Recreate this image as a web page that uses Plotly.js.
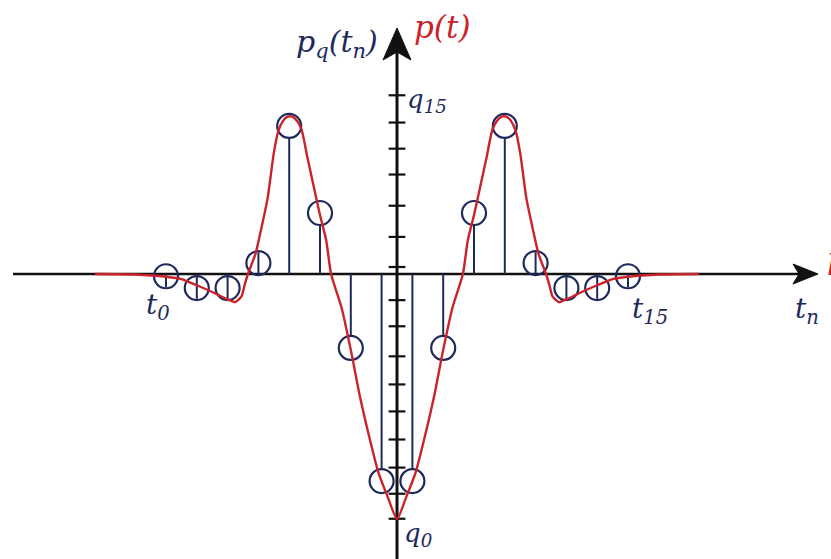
<!DOCTYPE html>
<html>
<head>
<meta charset="utf-8">
<script src="https://cdn.plot.ly/plotly-3.0.1.min.js"></script>
<style>
  html, body { margin: 0; padding: 0; background: #ffffff; }
  #plot { width: 831px; height: 559px; }
</style>
</head>
<body>
<div id="plot"></div>
<script>
// Continuous pulse p(t): time in sample periods, amplitude in quantisation steps
const tCurve = [-9.8, -8.5, -7.5, -7.0, -6.5, -6.0, -5.5, -5.25, -5.05, -4.95, -4.84, -4.6, -4.4, -4.2, -4.0, -3.85, -3.7, -3.55, -3.4, -3.25, -3.1, -2.9, -2.7, -2.5, -2.3, -2.14, -1.8, -1.5, -1.2, -0.9, -0.6, -0.3, 0,
                0.3, 0.6, 0.9, 1.2, 1.5, 1.8, 2.14, 2.3, 2.5, 2.7, 2.9, 3.1, 3.25, 3.4, 3.55, 3.7, 3.85, 4.0, 4.2, 4.4, 4.6, 4.84, 4.95, 5.05, 5.25, 5.5, 6.0, 6.5, 7.0, 7.5, 8.5, 9.8];
const pCurve = [0, -0.02, -0.1, -0.18, -0.4, -0.64, -0.9, -1.0, -0.8, -0.4, 0, 0.7, 1.65, 2.7, 4.3, 5.1, 5.45, 5.6, 5.6, 5.45, 5.15, 4.1, 3.1, 2.1, 1.21, 0, -1.2, -2.7, -4.38, -5.8, -7.08, -7.94, -8.72,
                -7.94, -7.08, -5.8, -4.38, -2.7, -1.2, 0, 1.21, 2.1, 3.1, 4.1, 5.15, 5.45, 5.6, 5.6, 5.45, 5.1, 4.3, 2.7, 1.65, 0.7, 0, -0.4, -0.8, -1.0, -0.9, -0.64, -0.4, -0.18, -0.1, -0.02, 0];

// Quantised samples p_q(t_n), n = 0 … 15
const tSample = [-7.5, -6.5, -5.5, -4.5, -3.5, -2.5, -1.5, -0.5, 0.5, 1.5, 2.5, 3.5, 4.5, 5.5, 6.5, 7.5];
const qSample = [-0.08, -0.5, -0.5, 0.39, 5.27, 2.17, -2.63, -7.37, -7.37, -2.63, 2.17, 5.27, 0.39, -0.5, -0.5, -0.08];

// Quantisation levels q0 … q15 marked on the amplitude axis
const qLevels = [-8.71, -7.82, -6.89, -5.89, -4.89, -3.93, -2.93, -1.86, -0.93, 0.25, 1.32, 2.43, 3.54, 4.46, 5.39, 6.36];

const W = 831, H = 559;
const X0 = 397, Y0 = 274;      // origin position in the figure
const SX = 30.8, SY = 28.1;    // pixels per unit on each axis
const NAVY = '#1e2a5c', RED = '#cc2229', INK = '#111111';
const SERIF = '"DejaVu Serif", "Liberation Serif", serif';

const xr = [-X0 / SX, (W - X0) / SX];
const yr = [-(H - Y0) / SY, Y0 / SY];

// stems run from the time axis to the edge of each sample circle
const R = 12 / SY;
const stemX = [], stemY = [];
tSample.forEach((t, i) => {
  const v = qSample[i];
  const s = v >= 0 ? 1 : -1;
  const end = Math.abs(v) < 1 ? v + s * R * 0.9 : v - s * R;
  stemX.push(t, t, null);
  stemY.push(0, end, null);
});

const traces = [
  { x: qLevels.map(() => 0), y: qLevels, mode: 'markers', hoverinfo: 'skip',
    marker: { symbol: 'line-ew', size: 12, color: INK, line: { width: 2.2, color: INK } } },
  { x: stemX, y: stemY, mode: 'lines', hoverinfo: 'skip',
    line: { color: NAVY, width: 2 } },
  { x: tSample, y: qSample, mode: 'markers', hoverinfo: 'skip',
    marker: { symbol: 'circle-open', size: 24, color: NAVY, line: { width: 2.2, color: NAVY } } },
  { x: tCurve, y: pCurve, mode: 'lines', hoverinfo: 'skip',
    line: { color: RED, width: 2.4, shape: 'spline', smoothing: 0.6 } }
];

// axis lines with barbed arrowheads
const hTip = (818 - X0) / SX, hLen = 25 / SX, hHalf = 10 / SY, hNotch = 6 / SX;
const vTip = (Y0 - 28) / SY, vLen = 32 / SY, vHalf = 14 / SX, vNotch = 8 / SY;
const shapes = [
  { type: 'line', xref: 'x', yref: 'y', x0: (13 - X0) / SX, x1: hTip - hLen + hNotch, y0: 0, y1: 0,
    line: { color: INK, width: 2.6 }, layer: 'below' },
  { type: 'line', xref: 'x', yref: 'y', x0: 0, x1: 0, y0: yr[0] - 1, y1: vTip - vLen + vNotch,
    line: { color: INK, width: 3 }, layer: 'below' },
  { type: 'path', xref: 'x', yref: 'y', layer: 'below', fillcolor: INK, line: { color: INK, width: 1 },
    path: `M ${hTip} 0 L ${hTip - hLen} ${hHalf} L ${hTip - hLen + hNotch} 0 L ${hTip - hLen} ${-hHalf} Z` },
  { type: 'path', xref: 'x', yref: 'y', layer: 'below', fillcolor: INK, line: { color: INK, width: 1 },
    path: `M 0 ${vTip} L ${vHalf} ${vTip - vLen} L 0 ${vTip - vLen + vNotch} L ${-vHalf} ${vTip - vLen} Z` }
];

function label(text, px, py, size, color, xanchor) {
  return { text: text, xref: 'paper', yref: 'paper', x: px / W, y: 1 - py / H,
    xanchor: xanchor || 'center', yanchor: 'middle', showarrow: false,
    font: { family: SERIF, size: size, color: color } };
}

const annotations = [
  label('<i>p<sub>q</sub>(t<sub>n</sub>)</i>', 380, 44, 30, NAVY, 'right'),
  label('<i>p(t)</i>', 412, 27, 31, RED, 'left'),
  label('<i>q<sub>15</sub></i>', 405, 100, 26, NAVY, 'left'),
  label('<i>q<sub>0</sub></i>', 402, 534, 26, NAVY, 'left'),
  label('<i>t<sub>0</sub></i>', 158, 306, 28, NAVY),
  label('<i>t<sub>15</sub></i>', 650, 310, 28, NAVY),
  label('<i>t<sub>n</sub></i>', 807, 310, 28, NAVY),
  label('<i>p(t)</i>', 825, 258, 30, RED, 'left')
];

const layout = {
  width: W, height: H,
  margin: { l: 0, r: 0, t: 0, b: 0 },
  paper_bgcolor: '#ffffff', plot_bgcolor: '#ffffff',
  showlegend: false,
  xaxis: { range: xr, visible: false, fixedrange: true },
  yaxis: { range: yr, visible: false, fixedrange: true },
  shapes: shapes,
  annotations: annotations
};

Plotly.newPlot('plot', traces, layout, { displayModeBar: false, staticPlot: true });
</script>
</body>
</html>
